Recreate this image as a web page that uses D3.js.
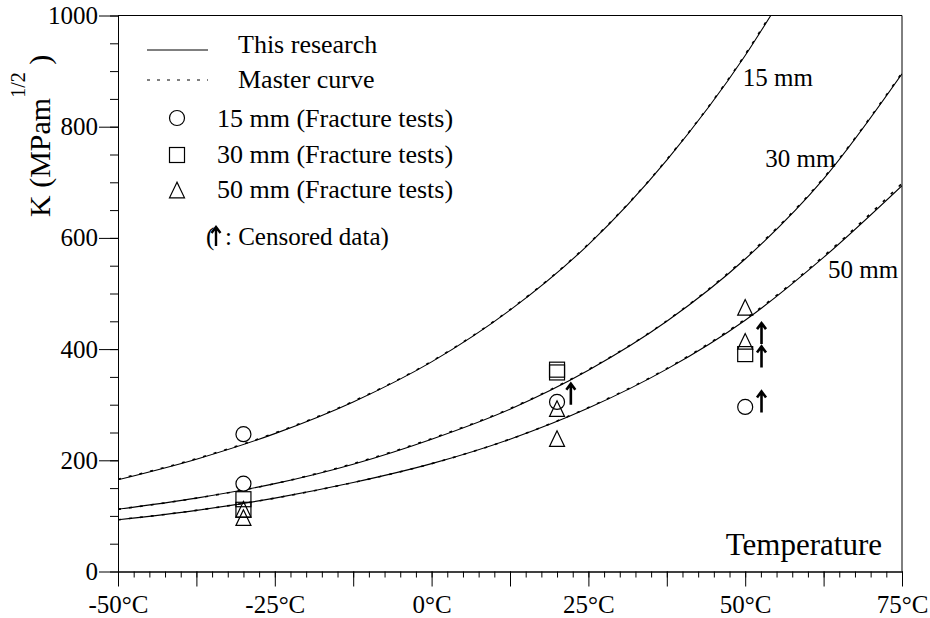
<!DOCTYPE html>
<html>
<head>
<meta charset="utf-8">
<script src="https://cdn.jsdelivr.net/npm/d3@7"></script>
<style>
  html, body { margin: 0; padding: 0; background: #fff; }
  svg { display: block; }
  text { font-family: "Liberation Serif", "Times New Roman", serif; fill: #000; }
</style>
</head>
<body>
<svg id="chart" width="930" height="618"></svg>
<script>
// ---------- data ----------
const xMajorTicks = [-50, -37.5, -25, -12.5, 0, 12.5, 25, 37.5, 50, 62.5, 75];
const xLabelTicks = [-50, -25, 0, 25, 50, 75];
const yMajorTicks = [0, 200, 400, 600, 800, 1000];

const curveT15 = [-50, -37.5, -25, -12.5, 0, 12.5, 25, 37.5, 50, 56];
const research15 = [165, 202, 248, 305, 377, 470, 588, 740, 928, 1035];
const master15   = [166, 203, 249, 306, 378, 471, 589, 741, 930, 1038];

const curveT = [-50, -37.5, -25, -12.5, 0, 12.5, 25, 37.5, 50, 62.5, 75];
const research30 = [112, 132, 158, 193, 238, 292, 362, 450, 562, 706, 895];
const master30   = [112, 132, 158, 194, 239, 293, 363, 451, 564, 708, 897];
const research50 = [93, 110, 132, 160, 194, 238, 294, 364, 452, 565, 694];
const master50   = [93, 110, 132, 160, 194, 238, 295, 365, 454, 567, 698];

const circleT = [-30, -30, 20, 50];
const circleK = [247, 158, 305, 296];
const squareT = [-30, -30, 20, 20, 50];
const squareK = [130, 111, 363, 358, 391];
const triangleT = [-30, -30, 20, 20, 50, 50];
const triangleK = [112, 97, 293, 239, 475, 414];

// censored data arrows (base of arrow)
const censoredT = [22.2, 52.6, 52.6, 52.6];
const censoredK = [300, 409, 367, 286];

const curveLabels = ["15 mm", "30 mm", "50 mm"];
const curveLabelT = [49.6, 53.2, 63.2];
const curveLabelK = [874, 727, 527];

// ---------- layout ----------
const svg = d3.select("#chart");
const mLeft = 118, mRight = 902, mTop = 15.5, mBottom = 571.5;
const x = d3.scaleLinear().domain([-50, 75]).range([mLeft, mRight]);
const y = d3.scaleLinear().domain([0, 1000]).range([mBottom, mTop]);
const serif = '"Liberation Serif", "Times New Roman", serif';

svg.append("defs").append("clipPath").attr("id", "plotclip")
  .append("rect").attr("x", mLeft).attr("y", mTop).attr("width", mRight - mLeft).attr("height", mBottom - mTop);

// frame (top & right)
svg.append("path")
  .attr("d", `M${mLeft},${mTop}H${mRight}V${mBottom}`)
  .attr("fill", "none").attr("stroke", "#000").attr("stroke-width", 1);

// x axis
const xMinor = d3.range(-50, 75.01, 2.5);
const gxMinor = svg.append("g").attr("transform", `translate(0,${mBottom})`)
  .call(d3.axisBottom(x).tickValues(xMinor).tickSize(6).tickSizeOuter(0).tickFormat(""));
const gx = svg.append("g").attr("transform", `translate(0,${mBottom})`)
  .call(d3.axisBottom(x).tickValues(xMajorTicks).tickSize(15).tickSizeOuter(0).tickPadding(9)
    .tickFormat(d => xLabelTicks.includes(d) ? `${d}°C` : ""));

// y axis
const yMinor = d3.range(0, 1000.1, 50);
const gyMinor = svg.append("g").attr("transform", `translate(${mLeft},0)`)
  .call(d3.axisLeft(y).tickValues(yMinor).tickSize(8).tickSizeOuter(0).tickFormat(""));
const gy = svg.append("g").attr("transform", `translate(${mLeft},0)`)
  .call(d3.axisLeft(y).tickValues(yMajorTicks).tickSize(19).tickSizeOuter(0).tickPadding(1)
    .tickFormat(d => String(d)));

[gxMinor, gx, gyMinor, gy].forEach(g => {
  g.attr("font-family", serif);
  g.selectAll("path,line").attr("stroke", "#000").attr("stroke-width", 1);
  g.selectAll("text").attr("font-family", serif).attr("font-size", 25).attr("fill", "#000");
});

// axis titles
svg.append("text").attr("x", 882).attr("y", 555).attr("text-anchor", "end")
  .attr("font-size", 31).text("Temperature");

const yt = svg.append("text").attr("transform", "translate(50,217) rotate(-90)").attr("font-size", 30);
yt.append("tspan").text("K (MPam");
yt.append("tspan").attr("font-size", 20).attr("dy", -25).text("1/2");
yt.append("tspan").attr("dy", 25).text(" )");

// curves
const plot = svg.append("g").attr("clip-path", "url(#plotclip)");
const line = d3.line().x(d => x(d[0])).y(d => y(d[1])).curve(d3.curveMonotoneX);
const curves = [
  [curveT15, research15, master15],
  [curveT, research30, master30],
  [curveT, research50, master50]
];
curves.forEach(([ts, rs, ms]) => {
  plot.append("path").attr("d", line(ts.map((t, i) => [t, rs[i]])))
    .attr("fill", "none").attr("stroke", "#000").attr("stroke-width", 1.1);
  plot.append("path").attr("d", line(ts.map((t, i) => [t, ms[i]])))
    .attr("fill", "none").attr("stroke", "#000").attr("stroke-width", 1.6)
    .attr("stroke-dasharray", "3,8");
});

curveLabels.forEach((s, i) => {
  svg.append("text").attr("x", x(curveLabelT[i])).attr("y", y(curveLabelK[i]))
    .attr("font-size", 25).text(s);
});

// markers
const mk = svg.append("g").attr("fill", "none").attr("stroke", "#000").attr("stroke-width", 1.2);
circleT.forEach((t, i) => {
  mk.append("circle").attr("cx", x(t)).attr("cy", y(circleK[i])).attr("r", 7.5).attr("fill", "#fff");
});
squareT.forEach((t, i) => {
  mk.append("rect").attr("x", x(t) - 7.5).attr("y", y(squareK[i]) - 7.5)
    .attr("width", 15).attr("height", 15).attr("fill", "none");
});
const tri = (cx, cy) => `M${cx},${cy - 7.8}L${cx - 7.5},${cy + 7.8}L${cx + 7.5},${cy + 7.8}Z`;
triangleT.forEach((t, i) => {
  mk.append("path").attr("d", tri(x(t), y(triangleK[i]))).attr("fill", "none");
});

// censored arrows
const arrow = (ax, ay, len) =>
  `M${ax},${ay}V${ay - len + 1}M${ax - 4.5},${ay - len + 6}L${ax},${ay - len}L${ax + 4.5},${ay - len + 6}`;
censoredT.forEach((t, i) => {
  svg.append("path").attr("d", arrow(x(t), y(censoredK[i]), 21))
    .attr("fill", "none").attr("stroke", "#000").attr("stroke-width", 2.6);
});

// legend
const lg = svg.append("g");
const lfs = 26;
lg.append("line").attr("x1", 147).attr("x2", 208).attr("y1", 50).attr("y2", 50)
  .attr("stroke", "#000").attr("stroke-width", 1);
lg.append("text").attr("x", 238).attr("y", 53).attr("font-size", lfs).text("This research");
lg.append("line").attr("x1", 147).attr("x2", 208).attr("y1", 80).attr("y2", 80)
  .attr("stroke", "#000").attr("stroke-width", 1).attr("stroke-dasharray", "3,7");
lg.append("text").attr("x", 238).attr("y", 88).attr("font-size", lfs).text("Master curve");

lg.append("circle").attr("cx", 177).attr("cy", 118).attr("r", 7.5)
  .attr("fill", "none").attr("stroke", "#000").attr("stroke-width", 1.2);
lg.append("text").attr("x", 217).attr("y", 127).attr("font-size", lfs).text("15 mm (Fracture tests)");
lg.append("rect").attr("x", 177 - 7.5).attr("y", 155 - 7.5).attr("width", 15).attr("height", 15)
  .attr("fill", "none").attr("stroke", "#000").attr("stroke-width", 1.2);
lg.append("text").attr("x", 217).attr("y", 163).attr("font-size", lfs).text("30 mm (Fracture tests)");
lg.append("path").attr("d", tri(177, 190))
  .attr("fill", "none").attr("stroke", "#000").attr("stroke-width", 1.2);
lg.append("text").attr("x", 217).attr("y", 198).attr("font-size", lfs).text("50 mm (Fracture tests)");

lg.append("text").attr("x", 206).attr("y", 245).attr("font-size", 25).text("(");
lg.append("path").attr("d", arrow(216, 246, 19))
  .attr("fill", "none").attr("stroke", "#000").attr("stroke-width", 2.4);
lg.append("text").attr("x", 225).attr("y", 245).attr("font-size", 25).text(": Censored data)");
</script>
</body>
</html>
